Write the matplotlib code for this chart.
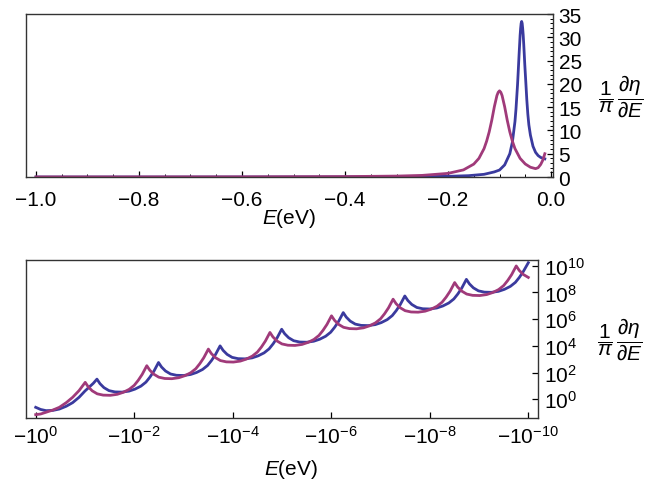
import numpy as np
import matplotlib
matplotlib.use("Agg")
import matplotlib.pyplot as plt
from matplotlib.ticker import MultipleLocator, FixedLocator

plt.rcParams['font.family'] = ['Liberation Sans', 'DejaVu Sans']
plt.rcParams['mathtext.fontset'] = 'custom'
plt.rcParams['mathtext.rm'] = 'Liberation Sans'
plt.rcParams['mathtext.it'] = 'Liberation Sans:italic'
plt.rcParams['mathtext.bf'] = 'Liberation Sans:bold'

BLUE = '#3a3a9e'
PURPLE = '#a03a7a'

# ---- top panel: linear energy axis (eV) ----
E_blue_top = [-1.0, -0.8, -0.6, -0.4, -0.3, -0.25, -0.2, -0.16, -0.13, -0.11, -0.1,
              -0.09, -0.08, -0.075, -0.07, -0.068, -0.065, -0.064, -0.062, -0.06, -0.059,
              -0.058, -0.057, -0.056, -0.055, -0.054, -0.053, -0.052, -0.051, -0.049,
              -0.047, -0.045, -0.043, -0.04, -0.035, -0.03, -0.025, -0.02, -0.015, -0.012]
d_blue_top = [0.004, 0.006, 0.011, 0.027, 0.053, 0.084, 0.15, 0.29, 0.58, 1.1, 1.5,
              2.6, 5.0, 7.5, 11.9, 14.6, 19.8, 21.9, 26.3, 30.4, 31.9,
              33.0, 33.4, 33.0, 31.9, 30.5, 28.6, 26.5, 24.3, 20.5,
              16.6, 13.5, 11.2, 9.0, 6.6, 5.3, 4.6, 4.2, 4.0, 3.9]

E_purple_top = [-1.0, -0.8, -0.6, -0.4, -0.3, -0.25, -0.2, -0.17, -0.15, -0.14, -0.13,
                -0.125, -0.12, -0.115, -0.11, -0.105, -0.1025, -0.1, -0.0975, -0.095,
                -0.09, -0.085, -0.08, -0.075, -0.07, -0.06, -0.05, -0.04, -0.03, -0.025,
                -0.02, -0.016, -0.012]
d_purple_top = [0.010, 0.017, 0.033, 0.09, 0.20, 0.35, 0.78, 1.53, 2.77, 4.0, 6.1,
                7.7, 9.7, 12.2, 15.1, 17.5, 18.2, 18.5, 18.2, 17.5,
                15.1, 12.2, 9.7, 7.7, 6.1, 4.0, 2.8, 2.1, 1.8, 2.0,
                2.7, 3.6, 5.0]

# ---- bottom panel: decades below 1 eV (E = -10**-dec) and log10 of the value ----
dec_blue = [0.00, 0.10, 0.21, 0.35, 0.48, 0.62, 0.75, 0.88, 1.00, 1.10, 1.17, 1.243,
            1.304, 1.385, 1.487, 1.608, 1.751, 1.893, 2.015, 2.136, 2.238, 2.319, 2.400, 2.493,
            2.554, 2.635, 2.737, 2.858, 3.001, 3.143, 3.265, 3.386, 3.488, 3.569, 3.650, 3.743,
            3.804, 3.885, 3.987, 4.108, 4.251, 4.393, 4.515, 4.636, 4.738, 4.819, 4.900, 4.993,
            5.054, 5.135, 5.237, 5.358, 5.501, 5.643, 5.765, 5.886, 5.988, 6.069, 6.150, 6.243,
            6.304, 6.385, 6.487, 6.608, 6.751, 6.893, 7.015, 7.136, 7.238, 7.319, 7.400, 7.493,
            7.554, 7.635, 7.737, 7.858, 8.001, 8.143, 8.265, 8.386, 8.488, 8.569, 8.650, 8.743,
            8.804, 8.885, 8.987, 9.108, 9.251, 9.393, 9.515, 9.636, 9.738, 9.819, 9.900, 10.0]
lg_blue = [-0.60, -0.76, -0.85, -0.83, -0.73, -0.52, -0.25, 0.15, 0.62, 0.96, 1.20, 1.51,
           1.173, 0.874, 0.650, 0.553, 0.538, 0.612, 0.762, 0.986, 1.286, 1.660, 2.108, 2.755,
           2.418, 2.119, 1.895, 1.798, 1.783, 1.857, 2.007, 2.231, 2.531, 2.905, 3.353, 4.000,
           3.663, 3.364, 3.140, 3.043, 3.028, 3.102, 3.252, 3.476, 3.776, 4.150, 4.598, 5.245,
           4.908, 4.609, 4.385, 4.288, 4.273, 4.347, 4.497, 4.721, 5.021, 5.395, 5.843, 6.490,
           6.153, 5.854, 5.630, 5.533, 5.518, 5.592, 5.742, 5.966, 6.266, 6.640, 7.088, 7.735,
           7.398, 7.099, 6.875, 6.778, 6.763, 6.837, 6.987, 7.211, 7.511, 7.885, 8.333, 8.980,
           8.643, 8.344, 8.120, 8.023, 8.008, 8.082, 8.232, 8.456, 8.756, 9.130, 9.578, 10.225]

dec_purple = [0.00, 0.10, 0.21, 0.35, 0.48, 0.62, 0.75, 0.88, 1.005,
              1.066, 1.147, 1.249, 1.370, 1.513, 1.655, 1.777, 1.898, 2.000, 2.081, 2.162, 2.255,
              2.316, 2.397, 2.499, 2.620, 2.763, 2.905, 3.027, 3.148, 3.250, 3.331, 3.412, 3.505,
              3.566, 3.647, 3.749, 3.870, 4.013, 4.155, 4.277, 4.398, 4.500, 4.581, 4.662, 4.755,
              4.816, 4.897, 4.999, 5.120, 5.263, 5.405, 5.527, 5.648, 5.750, 5.831, 5.912, 6.005,
              6.066, 6.147, 6.249, 6.370, 6.513, 6.655, 6.777, 6.898, 7.000, 7.081, 7.162, 7.255,
              7.316, 7.397, 7.499, 7.620, 7.763, 7.905, 8.027, 8.148, 8.250, 8.331, 8.412, 8.505,
              8.566, 8.647, 8.749, 8.870, 9.013, 9.155, 9.277, 9.398, 9.500, 9.581, 9.662, 9.755,
              9.816, 9.897, 10.0]
lg_purple = [-1.15, -1.10, -0.97, -0.80, -0.60, -0.25, 0.15, 0.65, 1.27,
             0.933, 0.634, 0.410, 0.313, 0.298, 0.372, 0.522, 0.746, 1.046, 1.420, 1.868, 2.515,
             2.178, 1.879, 1.655, 1.558, 1.543, 1.617, 1.767, 1.991, 2.291, 2.665, 3.113, 3.760,
             3.423, 3.124, 2.900, 2.803, 2.788, 2.862, 3.012, 3.236, 3.536, 3.910, 4.358, 5.005,
             4.668, 4.369, 4.145, 4.048, 4.033, 4.107, 4.257, 4.481, 4.781, 5.155, 5.603, 6.250,
             5.913, 5.614, 5.390, 5.293, 5.278, 5.352, 5.502, 5.726, 6.026, 6.400, 6.848, 7.495,
             7.158, 6.859, 6.635, 6.538, 6.523, 6.597, 6.747, 6.971, 7.271, 7.645, 8.093, 8.740,
             8.403, 8.104, 7.880, 7.783, 7.768, 7.842, 7.992, 8.216, 8.516, 8.890, 9.338, 9.985,
             9.648, 9.349, 9.125]

xtick_dec = [0, 2, 4, 6, 8, 10]
ytick_dec = [0, 2, 4, 6, 8, 10]

ylab = r'$\dfrac{1}{\pi}\,\dfrac{\partial\eta}{\partial E}$'
FS = 15
LW = 2.0

fig = plt.figure(figsize=(6.55, 4.81), dpi=100)

# top panel
ax1 = fig.add_axes([0.0397, 0.6299, 0.8046, 0.3389])
ax1.plot(E_blue_top, d_blue_top, color=BLUE, lw=LW)
ax1.plot(E_purple_top, d_purple_top, color=PURPLE, lw=LW)
ax1.set_xlim(-1.0194, 0.0039)
ax1.set_ylim(0, 35)
ax1.xaxis.set_major_locator(MultipleLocator(0.2))
ax1.xaxis.set_minor_locator(MultipleLocator(0.05))
ax1.yaxis.set_major_locator(MultipleLocator(5))
ax1.yaxis.set_minor_locator(MultipleLocator(1))
ax1.yaxis.tick_right()
ax1.tick_params(axis='x', which='both', direction='in', top=False, labelsize=FS, pad=9)
ax1.tick_params(axis='y', which='both', direction='in', left=False, right=True,
                labelleft=False, labelright=True, labelsize=FS, pad=4)
ax1.tick_params(which='major', length=4, width=0.9)
ax1.tick_params(which='minor', length=2, width=0.7)
ax1.set_xlabel(r'$E$(eV)', fontsize=FS)
ax1.xaxis.set_label_coords(0.50, -0.18)
ax1.yaxis.set_label_position('right')
ax1.set_ylabel(ylab, fontsize=FS, rotation=0, va='center', ha='left')
ax1.yaxis.set_label_coords(1.085, 0.5)

# bottom panel
ax2 = fig.add_axes([0.0397, 0.1289, 0.7817, 0.3285])
xb = 10.0 ** (-np.array(dec_blue))
xp = 10.0 ** (-np.array(dec_purple))
ax2.plot(xb, 10.0 ** np.array(lg_blue), color=BLUE, lw=LW)
ax2.plot(xp, 10.0 ** np.array(lg_purple), color=PURPLE, lw=LW)
ax2.set_xscale('log')
ax2.set_yscale('log')
ax2.set_xlim(10 ** 0.197, 10 ** -10.197)
ax2.set_ylim(10 ** -1.40, 10 ** 10.43)
ax2.xaxis.set_major_locator(FixedLocator([10.0 ** -d for d in xtick_dec]))
ax2.xaxis.set_minor_locator(FixedLocator([]))
ax2.set_xticklabels([r'$-10^{%d}$' % (-d) for d in xtick_dec])
ax2.yaxis.set_major_locator(FixedLocator([10.0 ** d for d in ytick_dec]))
ax2.yaxis.set_minor_locator(FixedLocator([]))
ax2.set_yticklabels([r'$10^{%d}$' % d for d in ytick_dec])
ax2.yaxis.tick_right()
ax2.tick_params(axis='x', which='both', direction='in', top=False, labelsize=FS, pad=5,
                length=4, width=0.9)
ax2.tick_params(axis='y', which='both', direction='in', left=False, right=True,
                labelleft=False, labelright=True, labelsize=FS, pad=4, length=4, width=0.9)
ax2.set_xlabel(r'$E$(eV)', fontsize=FS)
ax2.xaxis.set_label_coords(0.518, -0.245)
ax2.yaxis.set_label_position('right')
ax2.set_ylabel(ylab, fontsize=FS, rotation=0, va='center', ha='left')
ax2.yaxis.set_label_coords(1.115, 0.5)

for ax in (ax1, ax2):
    for s in ax.spines.values():
        s.set_color('#333333')
        s.set_linewidth(1.0)

fig.savefig('out.png', dpi=100)
